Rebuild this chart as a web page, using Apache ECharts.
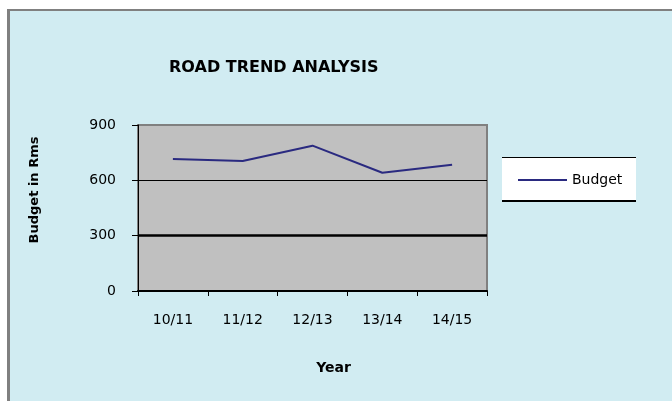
<!DOCTYPE html>
<html>
<head>
<meta charset="utf-8">
<script src="https://cdn.jsdelivr.net/npm/echarts@6/dist/echarts.min.js"></script>
<style>
html,body{margin:0;padding:0;background:#fff;}
#c{width:672px;height:401px;}
</style>
</head>
<body>
<div id="c"></div>
<script>
const titleText = 'ROAD TREND ANALYSIS';
const categories = ['10/11', '11/12', '12/13', '13/14', '14/15'];
const budget = [716, 705, 788, 641, 685];
const yTicks = { min: 0, max: 900, interval: 300 };
const seriesName = 'Budget';
const xName = 'Year';
const yName = 'Budget in Rms';

const chart = echarts.init(document.getElementById('c'), null, { renderer: 'canvas' });
const font = 'DejaVu Sans';
chart.setOption({
  animation: false,
  backgroundColor: '#ffffff',
  textStyle: { fontFamily: font },
  graphic: [
    { type: 'rect', z: -100, silent: true, shape: { x: 7, y: 9, width: 700, height: 420 }, style: { fill: '#D1ECF2' } },
    { type: 'line', z: -99, silent: true, shape: { x1: 8.5, y1: 9, x2: 8.5, y2: 420 }, style: { stroke: '#808080', lineWidth: 3 } },
    { type: 'line', z: -99, silent: true, shape: { x1: 7, y1: 10, x2: 700, y2: 10 }, style: { stroke: '#808080', lineWidth: 2 } },
    { type: 'rect', z: -50, silent: true, shape: { x: 502, y: 157, width: 134, height: 45 }, style: { fill: '#ffffff' } },
    { type: 'line', z: -49, silent: true, shape: { x1: 502, y1: 157.5, x2: 636, y2: 157.5 }, style: { stroke: '#000', lineWidth: 1 } },
    { type: 'line', z: -49, silent: true, shape: { x1: 502, y1: 201, x2: 636, y2: 201 }, style: { stroke: '#000', lineWidth: 2 } }
  ],
  title: {
    text: titleText,
    left: 164, top: 55,
    textStyle: { fontFamily: font, fontSize: 16, fontWeight: 'bold', color: '#000' }
  },
  legend: {
    data: [{ name: seriesName, icon: 'rect' }],
    left: 518, top: 173,
    padding: 0,
    itemWidth: 49, itemHeight: 2, itemGap: 5,
    textStyle: { fontFamily: font, fontSize: 14, color: '#000' }
  },
  grid: {
    left: 138, right: 185, top: 125, bottom: 110,
    show: true, backgroundColor: '#C0C0C0', borderColor: '#808080', borderWidth: 2,
    containLabel: false
  },
  xAxis: {
    type: 'category',
    data: categories,
    boundaryGap: true,
    name: xName,
    nameLocation: 'middle',
    nameGap: 70,
    nameTextStyle: { fontFamily: font, fontSize: 14, fontWeight: 'bold', color: '#000', padding: [0, 0, 0, 42] },
    axisLine: { show: true, lineStyle: { color: '#000', width: 2 } },
    axisTick: { show: true, length: 5, alignWithLabel: false, lineStyle: { color: '#000', width: 1 } },
    axisLabel: { margin: 22, fontFamily: font, fontSize: 14, color: '#000' },
    splitLine: { show: false }
  },
  yAxis: [{
    type: 'value',
    min: yTicks.min, max: yTicks.max, interval: yTicks.interval,
    name: yName,
    nameLocation: 'middle',
    nameRotate: 90,
    nameGap: 97,
    nameTextStyle: { fontFamily: font, fontSize: 13, fontWeight: 'bold', color: '#000', padding: [0, 0, 0, 36] },
    axisLine: { show: true, lineStyle: { color: '#000', width: 1 } },
    axisTick: { show: true, length: 6, lineStyle: { color: '#000' } },
    axisLabel: { margin: 22, fontFamily: font, fontSize: 14, color: '#000' },
    splitLine: { show: true, lineStyle: { color: ['rgba(0,0,0,0)', '#000', '#000', 'rgba(0,0,0,0)'], width: 1 } }
  }, {
    type: 'value',
    position: 'left',
    min: yTicks.min, max: yTicks.max, interval: yTicks.interval,
    axisLine: { show: false }, axisTick: { show: false }, axisLabel: { show: false },
    splitLine: { show: true, lineStyle: { color: ['rgba(0,0,0,0)', '#000', 'rgba(0,0,0,0)', 'rgba(0,0,0,0)'], width: 2.5 } }
  }],
  series: [{
    name: seriesName,
    type: 'line',
    data: budget,
    symbol: 'none',
    showSymbol: false,
    lineStyle: { color: '#2A2A80', width: 2 },
    itemStyle: { color: '#2A2A80' }
  }]
});
</script>
</body>
</html>
